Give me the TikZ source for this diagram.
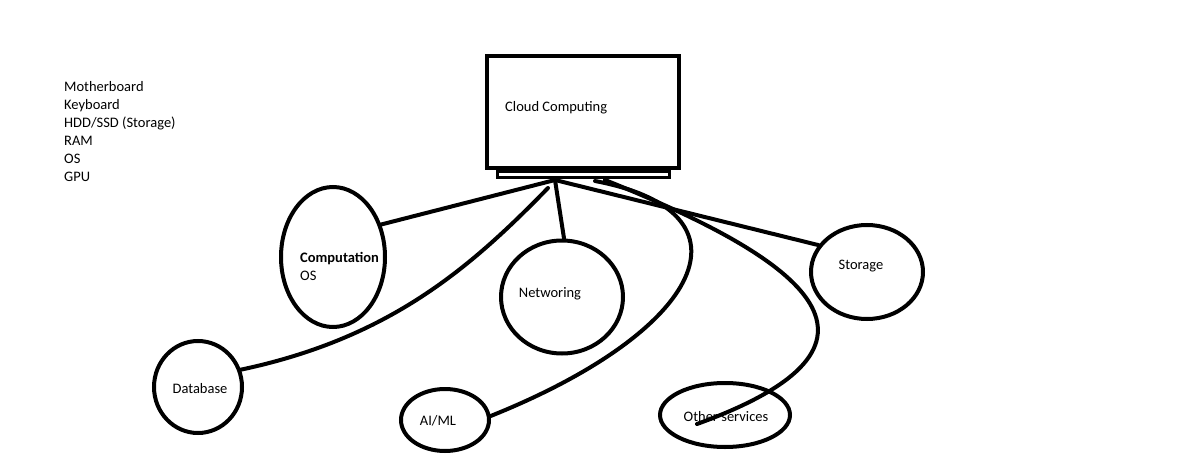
\documentclass[tikz,border=0pt]{standalone}
\usepackage{fontspec}
\setmainfont{Carlito}
\usetikzlibrary{positioning,shapes.geometric}
\tikzset{
    %Define standard font
    font=\fontsize{14.5}{18}\selectfont,
    %Define style for the screen
    screen/.style={
           rectangle,
           draw=black, line width=4pt,
           minimum width=192, minimum height=112,
           inner sep=0pt},
    standbar/.style={
           rectangle,
           draw=black, line width=3pt,
           minimum width=172, minimum height=6,
           inner sep=0pt},
    % Define style for the service bubbles
    bubble/.style={ellipse,draw=black,line width=4pt,inner sep=0pt},
    % Define style for the text
    txt/.style={inner sep=0pt,align=left},
    % Define connector style
    link/.style={line width=4pt,line cap=round}
}

\begin{document}
\begin{tikzpicture}[x=1pt,y=-1pt]
  \useasboundingbox (0,0) rectangle (1195,460);

  % hardware list
  \node[txt,anchor=north west] (parts) at (64,81)
    {Motherboard\\Keyboard\\HDD/SSD (Storage)\\RAM\\OS\\GPU};

  % cloud screen
  \node[screen] (cloud) at (583,112) {};
  \node[standbar] (stand) at (583,174) {};
  \node[txt,anchor=west] (cloudT) at (505,108) {Cloud Computing};
  \coordinate (hub) at (555,180);

  % services
  \node[bubble,minimum width=104,minimum height=140] (comp) at (333,257) {};
  \node[txt,anchor=west] (compT) at (300,266) {\textbf{Computation}\\OS};
  \node[bubble,minimum width=122,minimum height=113] (net) at (562,297) {};
  \node[txt] (netT) at (550,294) {Networing};
  \node[bubble,minimum width=112,minimum height=94] (stor) at (867,272) {};
  \node[txt] (storT) at (861,266) {Storage};
  \node[bubble,minimum width=88,minimum height=92] (db) at (198,387) {};
  \node[txt] (dbT) at (200,389) {Database};
  \node[bubble,minimum width=88,minimum height=62] (ai) at (445,420) {};
  \node[txt] (aiT) at (438,421) {AI/ML};
  \node[bubble,minimum width=130,minimum height=64] (oth) at (725,415) {};
  \node[txt] (othT) at (726,417) {Other services};

  \coordinate (dbStart) at (548,188);
  \coordinate (aiStart) at (595,181);
  \coordinate (othStart) at (605,180);
  \coordinate (othEnd) at (697,424);

  \path[link]
    (hub) edge (comp.34)
    (hub) edge (net.88)
    (hub) edge (stor.151);
  \draw[link] (dbStart) .. controls (470,268) and (390,338) .. (db.22);
  \draw[link] (aiStart) .. controls (760,212) and (705,330) .. (ai.5);
  \draw[link] (othStart) .. controls (810,262) and (915,345) .. (othEnd);
\end{tikzpicture}
\end{document}
